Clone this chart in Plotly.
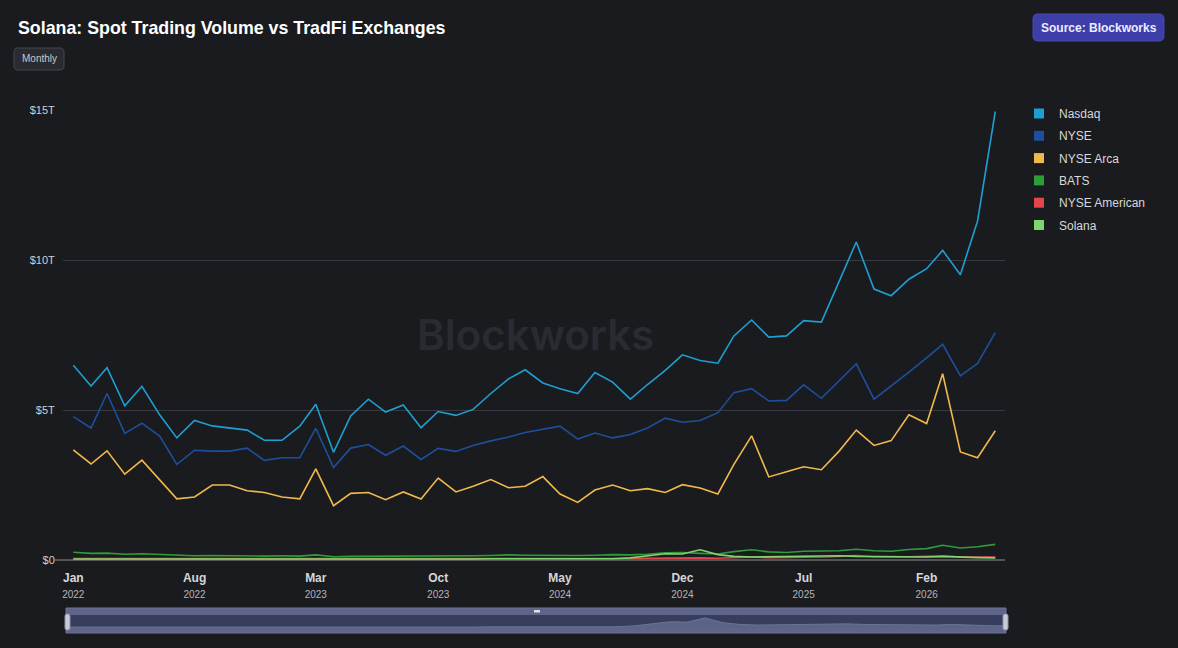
import plotly.graph_objects as go
import pandas as pd

# ---------------- data (trillions USD, monthly) ----------------
months = pd.date_range("2022-01-01", "2026-06-01", freq="MS")

nasdaq = [6.49, 5.80, 6.41, 5.14, 5.79, 4.84, 4.07, 4.65, 4.47, 4.40,
          4.33, 3.99, 3.99, 4.46, 5.19, 3.59, 4.80, 5.36, 4.93, 5.17,
          4.41, 4.95, 4.82, 5.02, 5.55, 6.04, 6.34, 5.90, 5.71, 5.55,
          6.25, 5.93, 5.36, 5.85, 6.32, 6.84, 6.65, 6.56, 7.47, 8.00,
          7.43, 7.47, 7.98, 7.93, 9.30, 10.60, 9.03, 8.81, 9.36, 9.71,
          10.32, 9.51, 11.30, 14.95]
nyse = [4.78, 4.40, 5.55, 4.22, 4.56, 4.13, 3.19, 3.66, 3.63, 3.63,
        3.73, 3.32, 3.41, 3.41, 4.39, 3.08, 3.73, 3.85, 3.49, 3.80,
        3.35, 3.72, 3.62, 3.82, 3.97, 4.10, 4.25, 4.35, 4.46, 4.03,
        4.23, 4.07, 4.18, 4.40, 4.73, 4.59, 4.65, 4.91, 5.58, 5.71,
        5.30, 5.32, 5.84, 5.39, 5.99, 6.54, 5.36, 5.79, 6.26, 6.74,
        7.19, 6.14, 6.55, 7.58]
nyse_arca = [3.67, 3.20, 3.64, 2.86, 3.33, 2.69, 2.04, 2.10, 2.50, 2.50,
             2.31, 2.25, 2.10, 2.04, 3.04, 1.81, 2.22, 2.25, 2.01, 2.27,
             2.03, 2.73, 2.27, 2.46, 2.68, 2.41, 2.46, 2.78, 2.20, 1.92,
             2.33, 2.50, 2.31, 2.38, 2.25, 2.51, 2.40, 2.20, 3.19, 4.14,
             2.77, 2.94, 3.11, 3.01, 3.63, 4.33, 3.82, 3.98, 4.84, 4.55,
             6.21, 3.60, 3.41, 4.31]
bats = [0.26, 0.22, 0.23, 0.19, 0.21, 0.18, 0.15, 0.14, 0.15, 0.14,
        0.13, 0.13, 0.14, 0.13, 0.17, 0.11, 0.12, 0.12, 0.12, 0.13,
        0.12, 0.14, 0.13, 0.14, 0.15, 0.17, 0.16, 0.15, 0.14, 0.15,
        0.16, 0.18, 0.17, 0.19, 0.24, 0.25, 0.22, 0.20, 0.28, 0.34,
        0.27, 0.25, 0.29, 0.30, 0.31, 0.36, 0.31, 0.29, 0.35, 0.38,
        0.49, 0.40, 0.44, 0.52]
nyse_american = [0.05, 0.05, 0.05, 0.04, 0.05, 0.04, 0.04, 0.04, 0.04, 0.04,
                 0.04, 0.03, 0.04, 0.04, 0.05, 0.03, 0.03, 0.04, 0.03, 0.04,
                 0.03, 0.04, 0.03, 0.04, 0.04, 0.05, 0.05, 0.05, 0.04, 0.04,
                 0.05, 0.05, 0.05, 0.06, 0.07, 0.08, 0.07, 0.06, 0.08, 0.10,
                 0.08, 0.08, 0.09, 0.10, 0.12, 0.15, 0.11, 0.10, 0.11, 0.12,
                 0.13, 0.10, 0.09, 0.10]
solana = [0.03, 0.03, 0.03, 0.02, 0.02, 0.01, 0.01, 0.01, 0.01, 0.01,
          0.01, 0.01, 0.01, 0.01, 0.02, 0.01, 0.01, 0.01, 0.01, 0.01,
          0.01, 0.02, 0.02, 0.03, 0.04, 0.04, 0.05, 0.04, 0.04, 0.03,
          0.03, 0.04, 0.07, 0.14, 0.21, 0.20, 0.34, 0.18, 0.12, 0.10,
          0.11, 0.10, 0.12, 0.13, 0.14, 0.12, 0.11, 0.10, 0.11, 0.10,
          0.12, 0.09, 0.08, 0.07]

series_names = ["Nasdaq", "NYSE", "NYSE Arca", "BATS", "NYSE American", "Solana"]
series_values = [nasdaq, nyse, nyse_arca, bats, nyse_american, solana]
series_colors = ["#1e9fd2", "#1d4f9c", "#f1b94b", "#2f9c3a", "#e2454b", "#7fd46b"]

x_tick_dates = ["2022-01-01", "2022-08-01", "2023-03-01", "2023-10-01",
                "2024-05-01", "2024-12-01", "2025-07-01", "2026-02-01"]
x_tick_months = ["Jan", "Aug", "Mar", "Oct", "May", "Dec", "Jul", "Feb"]
x_tick_years = ["2022", "2022", "2023", "2023", "2024", "2024", "2025", "2026"]
y_tick_vals = [0, 5, 10, 15]
y_tick_text = ["$0", "$5T", "$10T", "$15T"]

# ---------------- layout helpers (pixel -> paper) ----------------
W, H = 1178, 648
BG = "#1a1b1f"


def px(x):
    return x / W


def py(y):
    return 1 - y / H


def rrect(x0, y0, x1, y1, r):
    pts = [
        ("M", [(x0 + r, y0)]), ("L", [(x1 - r, y0)]), ("Q", [(x1, y0), (x1, y0 + r)]),
        ("L", [(x1, y1 - r)]), ("Q", [(x1, y1), (x1 - r, y1)]), ("L", [(x0 + r, y1)]),
        ("Q", [(x0, y1), (x0, y1 - r)]), ("L", [(x0, y0 + r)]), ("Q", [(x0, y0), (x0 + r, y0)]),
    ]
    s = ""
    for cmd, coords in pts:
        s += cmd + " " + " ".join(f"{px(a):.5f},{py(b):.5f}" for a, b in coords) + " "
    return s + "Z"


fig = go.Figure()

# main lines
for name, vals, col in zip(series_names, series_values, series_colors):
    fig.add_trace(go.Scatter(
        x=months, y=vals, mode="lines", name=name,
        line=dict(color=col, width=1.6), showlegend=False,
        xaxis="x", yaxis="y",
    ))

# legend entries as squares
for i, (name, col) in enumerate(zip(series_names, series_colors)):
    fig.add_trace(go.Scatter(
        x=[None], y=[None], mode="markers", name=name, legendgroup=f"g{i}",
        marker=dict(symbol="square", size=10, color=col), showlegend=True,
        xaxis="x", yaxis="y",
    ))

# mini chart in the range-slider look-alike
fig.add_trace(go.Scatter(
    x=months, y=solana, mode="lines", fill="tozeroy",
    line=dict(color="#6c7396", width=1), fillcolor="#5c6388",
    showlegend=False, xaxis="x2", yaxis="y2", hoverinfo="skip",
))

ticktext = [f"<b>{m}</b><br><span style='font-size:10px;color:#b5b5b8'>{y}</span>"
            for m, y in zip(x_tick_months, x_tick_years)]

shapes = []
# x-axis baseline (extends slightly left of plot at $0)
shapes.append(dict(type="line", xref="paper", yref="paper",
                   x0=px(55), x1=px(1005), y0=py(560), y1=py(560),
                   line=dict(color="#8d8e93", width=1), layer="above"))
# Monthly button
shapes.append(dict(type="path", xref="paper", yref="paper", path=rrect(14, 48, 64, 70, 4),
                   fillcolor="#2a2b30", line=dict(color="#46474d", width=1), layer="below"))
# Source button
shapes.append(dict(type="path", xref="paper", yref="paper", path=rrect(1033, 14, 1164, 41, 5),
                   fillcolor="#3e3ea8", line=dict(color="#4848b4", width=1), layer="below"))
# Range slider body
shapes.append(dict(type="rect", xref="paper", yref="paper",
                   x0=px(66), x1=px(1006), y0=py(633), y1=py(608),
                   fillcolor="#5f6589", line=dict(color="#6e7499", width=1), layer="below"))
shapes.append(dict(type="rect", xref="paper", yref="paper",
                   x0=px(67), x1=px(1005), y0=py(628), y1=py(615),
                   fillcolor="#363d5d", line=dict(width=0), layer="below"))
# slider handles
for hx in (67.5, 1005.5):
    shapes.append(dict(type="path", xref="paper", yref="paper",
                       path=rrect(hx - 2.5, 614, hx + 2.5, 630, 2),
                       fillcolor="#c9ccd8", line=dict(color="#8e92a8", width=1), layer="above"))
# grip at top center
shapes.append(dict(type="rect", xref="paper", yref="paper",
                   x0=px(534), x1=px(540), y0=py(612.5), y1=py(610),
                   fillcolor="#e0e2ea", line=dict(width=0), layer="above"))

annotations = [
    dict(text="Blockworks", x=px(535), y=py(334), xref="paper", yref="paper",
         showarrow=False,
         font=dict(family="Inter, Liberation Sans, sans-serif", size=42, color="#2a2b31", weight=600),
         xanchor="center", yanchor="middle"),
    dict(text="<b>Solana: Spot Trading Volume vs TradFi Exchanges</b>", x=px(16), y=py(28),
         xref="paper", yref="paper", showarrow=False, xanchor="left", yanchor="middle",
         font=dict(family="Liberation Sans, Arial, sans-serif", size=17.8, color="#ffffff")),
    dict(text="Monthly", x=px(39), y=py(59),
         xref="paper", yref="paper", showarrow=False, xanchor="center", yanchor="middle",
         font=dict(family="Liberation Sans, Arial, sans-serif", size=10, color="#c9c9cc")),
    dict(text="<b>Source: Blockworks</b>", x=px(1098.5), y=py(28), xref="paper", yref="paper",
         showarrow=False, xanchor="center", yanchor="middle",
         font=dict(family="Liberation Sans, Arial, sans-serif", size=12, color="#ececff")),
]

fig.update_layout(
    width=W, height=H,
    margin=dict(l=0, r=0, t=0, b=0, autoexpand=False),
    paper_bgcolor=BG, plot_bgcolor=BG,
    font=dict(family="Liberation Sans, Arial, sans-serif", color="#d0d0d3"),
    showlegend=True,
    legend=dict(x=px(1019), y=py(99), xanchor="left", yanchor="top",
                font=dict(size=12, color="#d8d8db"), bgcolor="rgba(0,0,0,0)",
                tracegroupgap=3.3, itemclick=False),
    xaxis=dict(domain=[px(63), px(1005)], type="date",
               range=["2021-12-14", "2026-06-18"],
               tickvals=x_tick_dates, ticktext=ticktext,
               tickfont=dict(size=12, color="#d6d6d9"),
               showgrid=False, zeroline=False, showline=False,
               ticks="outside", ticklen=7, tickcolor=BG,
               anchor="y", fixedrange=True),
    yaxis=dict(domain=[py(560), py(110)], range=[0, 15],
               tickvals=y_tick_vals, ticktext=y_tick_text,
               tickfont=dict(size=11, color="#cfcfd2"),
               showgrid=True, gridcolor="#38393e", gridwidth=1,
               zeroline=False, showline=False,
               ticks="outside", ticklen=5, tickcolor=BG,
               anchor="x", fixedrange=True),
    xaxis2=dict(domain=[px(66), px(1006)], type="date",
                range=["2022-01-01", "2026-06-01"], visible=False,
                anchor="y2", fixedrange=True),
    yaxis2=dict(domain=[py(628), py(615)], range=[0, 0.44], visible=False,
                anchor="x2", fixedrange=True),
    shapes=shapes,
    annotations=annotations,
)

fig.write_html("out.html")
